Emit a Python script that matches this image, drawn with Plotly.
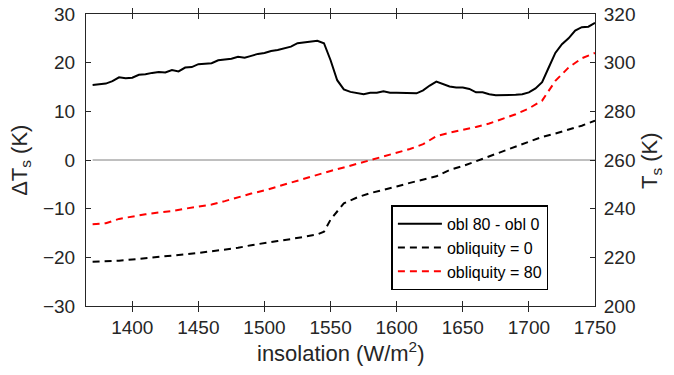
import plotly.graph_objects as go

# ---- data ----
insol_diff = list(range(1370, 1751, 5))
delta_ts = [15.4, 15.5, 15.7, 16.2, 17.0, 16.8, 16.9, 17.5, 17.6, 17.9,
            18.1, 18.0, 18.5, 18.2, 19.0, 19.1, 19.7, 19.8, 19.9, 20.5,
            20.6, 20.8, 21.2, 21.0, 21.4, 21.8, 22.0, 22.4, 22.6, 23.0,
            23.3, 24.0, 24.2, 24.4, 24.5, 24.0, 20.5, 16.4, 14.5, 14.0,
            13.8, 13.5, 13.8, 13.8, 14.1, 13.8, 13.8, 13.8, 13.7, 13.7,
            14.3, 15.3, 16.1, 15.6, 15.1, 14.9, 14.9, 14.6, 13.9, 13.9,
            13.5, 13.3, 13.3, 13.4, 13.4, 13.5, 13.9, 14.7, 16.0, 19.0,
            22.0, 23.8, 25.0, 26.6, 27.3, 27.4, 28.2]

insol_80 = list(range(1370, 1751, 10))
ts_obl80 = [233.6, 234.0, 235.8, 236.8, 237.7, 238.4, 239.0, 240.0, 240.9, 241.7,
            243.1, 244.7, 246.2, 247.5, 249.1, 250.8, 252.6, 254.1, 255.5, 256.9,
            258.4, 260.0, 261.4, 263.0, 264.5, 266.5, 269.8, 271.2, 272.3, 273.6,
            275.0, 276.9, 278.8, 281.2, 284.4, 292.5, 298.0, 301.8, 304.0]

insol_0 = [1370, 1380, 1390, 1400, 1410, 1420, 1430, 1440, 1450, 1460,
           1470, 1480, 1490, 1500, 1510, 1520, 1530, 1540, 1545, 1550,
           1560, 1570, 1580, 1590, 1600, 1610, 1620, 1630, 1640, 1650,
           1660, 1670, 1680, 1690, 1700, 1710, 1720, 1730, 1740, 1750]
ts_obl0 = [218.2, 218.3, 218.6, 219.1, 219.6, 220.2, 220.8, 221.3, 221.8, 222.5,
           223.2, 223.9, 225.0, 226.0, 226.7, 227.5, 228.3, 229.4, 230.5, 235.5,
           242.2, 244.6, 246.4, 247.6, 249.1, 250.6, 251.8, 253.3, 255.9, 257.5,
           259.5, 261.5, 263.6, 265.6, 267.6, 269.5, 270.9, 272.4, 274.1, 276.2]

x_ticks = [1400, 1450, 1500, 1550, 1600, 1650, 1700, 1750]
left_ticks = [-30, -20, -10, 0, 10, 20, 30]
right_ticks = [200, 220, 240, 260, 280, 300, 320]

FONT = "Helvetica, Arial, Liberation Sans, sans-serif"
AX = "#262626"
TICK = 19
TITLE = 22

fig = go.Figure()

fig.add_trace(go.Scatter(x=insol_80, y=ts_obl80, yaxis="y2", mode="lines",
                         name="obliquity = 80", legendrank=3,
                         line=dict(color="#ff0000", width=2, dash="7px,5px")))
fig.add_trace(go.Scatter(x=insol_0, y=ts_obl0, yaxis="y2", mode="lines",
                         name="obliquity = 0", legendrank=2,
                         line=dict(color="black", width=2, dash="7px,5px")))
fig.add_trace(go.Scatter(x=insol_diff, y=delta_ts, yaxis="y", mode="lines",
                         name="obl 80 - obl 0", legendrank=1,
                         line=dict(color="black", width=2)))

fig.add_shape(type="line", xref="x", yref="y",
              x0=insol_diff[0], x1=insol_diff[-1], y0=0, y1=0,
              line=dict(color="#808080", width=1), layer="below")

# axis titles as annotations for exact placement
fig.add_annotation(text="insolation (W/m<sup>2</sup>)", xref="paper", yref="paper",
                   x=0.5, y=-0.158, xanchor="center", yanchor="middle",
                   showarrow=False, font=dict(size=TITLE, color=AX, family=FONT))
fig.add_annotation(text="ΔT<sub>s</sub> (K)", xref="paper", yref="paper",
                   x=-0.128, y=0.5, xanchor="center", yanchor="middle", textangle=-90,
                   showarrow=False, font=dict(size=TITLE, color=AX, family=FONT))
fig.add_annotation(text="T<sub>s</sub> (K)", xref="paper", yref="paper",
                   x=1.11, y=0.5, xanchor="center", yanchor="middle", textangle=-90,
                   showarrow=False, font=dict(size=TITLE, color=AX, family=FONT))

fig.update_layout(
    width=674, height=375,
    margin=dict(l=86, r=79, t=14, b=69),
    plot_bgcolor="white", paper_bgcolor="white",
    font=dict(family=FONT, size=TICK, color=AX),
    showlegend=True,
    legend=dict(x=0.6, y=0.345, xanchor="left", yanchor="top",
                bgcolor="white", bordercolor="black", borderwidth=1.5,
                font=dict(family=FONT, size=16, color="black"),
                tracegroupgap=0, itemwidth=44),
    xaxis=dict(range=[1365, 1750], tickvals=x_ticks, ticks="inside", ticklen=5,
               showline=True, linecolor=AX, linewidth=1, mirror="allticks",
               tickcolor=AX, showgrid=False, zeroline=False, automargin=False,
               ticklabelstandoff=4,
               tickfont=dict(size=TICK, color=AX)),
    yaxis=dict(range=[-30, 30], tickvals=left_ticks, ticks="inside", ticklen=5,
               showline=True, linecolor=AX, linewidth=1, tickcolor=AX,
               showgrid=False, zeroline=False, automargin=False,
               ticklabelstandoff=6,
               tickfont=dict(size=TICK, color=AX)),
    yaxis2=dict(range=[200, 320], tickvals=right_ticks, ticks="inside", ticklen=5,
                overlaying="y", side="right", automargin=False,
                showline=True, linecolor=AX, linewidth=1, tickcolor=AX,
                showgrid=False, zeroline=False, ticklabelstandoff=4,
                tickfont=dict(size=TICK, color=AX)),
)

fig.write_html("out.html", config={"displayModeBar": False},
               post_script="document.body.style.margin='0';document.body.style.padding='0';")
